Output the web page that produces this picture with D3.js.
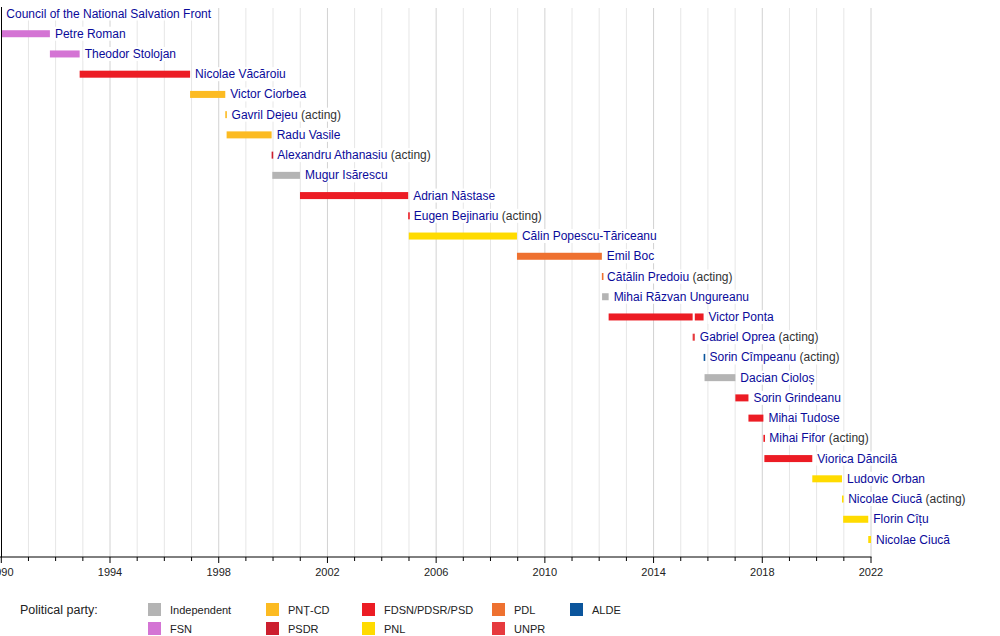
<!DOCTYPE html>
<html>
<head>
<meta charset="utf-8">
<script src="https://cdn.jsdelivr.net/npm/d3@7"></script>
<style>
  body { margin: 0; background: #fff; }
  svg { display: block; font-family: "Liberation Sans", Arial, sans-serif; }
</style>
</head>
<body>
<div class="canvas"></div>
<script>
// Rows of the timeline (one per prime minister term)
const rowNames = [
    'Council of the National Salvation Front', 'Petre Roman', 'Theodor Stolojan',
    'Nicolae Văcăroiu', 'Victor Ciorbea', 'Gavril Dejeu', 'Radu Vasile',
    'Alexandru Athanasiu', 'Mugur Isărescu', 'Adrian Năstase', 'Eugen Bejinariu',
    'Călin Popescu-Tăriceanu', 'Emil Boc', 'Cătălin Predoiu', 'Mihai Răzvan Ungureanu',
    'Victor Ponta', 'Gabriel Oprea', 'Sorin Cîmpeanu', 'Dacian Cioloș',
    'Sorin Grindeanu', 'Mihai Tudose', 'Mihai Fifor', 'Viorica Dăncilă',
    'Ludovic Orban', 'Nicolae Ciucă', 'Florin Cîțu', 'Nicolae Ciucă'
];
const rowActing = [
    false, false, false, false, false, true, false, true, false, false, true,
    false, false, true, false, false, true, true, false, false, false, true,
    false, false, true, false, false
];

// Bar segments (row index, from, till, party)
const segRow = [0, 1, 2, 3, 4, 5, 6, 7, 8, 9, 10, 11, 12, 13, 14, 15, 15, 16, 17, 18, 19, 20, 21, 22, 23, 24, 25, 26];
const segFrom = [
    '1989-12-22', '1989-12-26', '1991-10-16', '1992-11-19', '1996-12-12', '1998-03-30',
    '1998-04-17', '1999-12-13', '1999-12-22', '2000-12-28', '2004-12-21', '2004-12-29',
    '2008-12-22', '2012-02-06', '2012-02-09', '2012-05-07', '2015-07-09', '2015-06-10',
    '2015-11-05', '2015-11-17', '2017-01-04', '2017-06-29', '2018-01-16', '2018-01-29',
    '2019-11-04', '2020-12-07', '2020-12-23', '2021-11-25'
];
const segTill = [
    '1989-12-26', '1991-10-16', '1992-11-19', '1996-12-12', '1998-03-30', '1998-04-17',
    '1999-12-13', '1999-12-22', '2000-12-28', '2004-12-21', '2004-12-29', '2008-12-22',
    '2012-02-06', '2012-02-09', '2012-05-07', '2015-06-10', '2015-11-04', '2015-07-09',
    '2015-11-17', '2017-01-04', '2017-06-29', '2018-01-16', '2018-01-29', '2019-11-04',
    '2020-12-07', '2020-12-23', '2021-11-25', '2022-01-01'
];
const segParty = [
    'FSN', 'FSN', 'FSN', 'FDSN/PDSR/PSD', 'PNȚ-CD', 'PNȚ-CD', 'PNȚ-CD', 'PSDR',
    'Independent', 'FDSN/PDSR/PSD', 'FDSN/PDSR/PSD', 'PNL', 'PDL', 'PDL', 'Independent',
    'FDSN/PDSR/PSD', 'FDSN/PDSR/PSD', 'UNPR', 'ALDE', 'Independent', 'FDSN/PDSR/PSD',
    'FDSN/PDSR/PSD', 'FDSN/PDSR/PSD', 'FDSN/PDSR/PSD', 'PNL', 'PNL', 'PNL', 'PNL'
];

// Parties (legend order, column by column)
const parties = ['Independent', 'FSN', 'PNȚ-CD', 'PSDR', 'FDSN/PDSR/PSD', 'PNL', 'PDL', 'UNPR', 'ALDE'];
const partyColors = ['#b4b4b4', '#d474d4', '#fcbb22', '#cc1f2f', '#ec1c24', '#ffdb00', '#ee7130', '#e63a3e', '#0b559c'];

// Axis years
const startYear = 1990;
const endYear = 2022;
const majorStep = 4;

const app = {
    width: 1000,
    height: 636,
    svg: null,
    x: null,
    y: null,
    color: null,

    init: function() {
        const parse = d3.timeParse('%Y-%m-%d');

        app.svg = d3.select('.canvas')
            .append('svg')
            .attr('width', app.width)
            .attr('height', app.height);

        app.x = d3.scaleTime()
            .domain([new Date(startYear, 0, 1), new Date(endYear, 0, 1)])
            .range([1.3, 871])
            .clamp(true);

        app.y = d3.scalePoint()
            .domain(d3.range(rowNames.length))
            .range([13, 539]);

        app.color = d3.scaleOrdinal(parties, partyColors);

        const segments = segRow.map((r, i) => ({
            row: r,
            from: parse(segFrom[i]),
            till: parse(segTill[i]),
            party: segParty[i]
        }));

        app.drawGrid();
        app.drawBars(segments);
        app.drawLabels(segments);
        app.drawAxis();
        app.drawLegend();
    },

    drawGrid: function() {
        const years = d3.range(startYear + 1, endYear + 1);
        app.svg.append('g')
            .selectAll('line')
            .data(years)
            .join('line')
                .attr('x1', d => app.x(new Date(d, 0, 1)))
                .attr('x2', d => app.x(new Date(d, 0, 1)))
                .attr('y1', 8)
                .attr('y2', 557)
                .attr('stroke', d => (d - startYear) % majorStep === 0 ? '#d2d2d2' : '#e6e6e6')
                .attr('stroke-width', 1);
    },

    drawBars: function(segments) {
        // Visible terms get at least a thin sliver so acting terms show up
        app.svg.append('g')
            .selectAll('rect')
            .data(segments.filter(d => d.till > app.x.domain()[0]))
            .join('rect')
                .attr('x', d => app.x(d.from))
                .attr('width', d => Math.max(1.6, app.x(d.till) - app.x(d.from)))
                .attr('y', d => app.y(d.row) - 3)
                .attr('height', 7)
                .attr('fill', d => app.color(d.party));
    },

    drawLabels: function(segments) {
        // Label sits right after the last segment of each row
        const ends = rowNames.map((n, i) =>
            d3.max(segments.filter(s => s.row === i), s => app.x(s.till)));

        const g = app.svg.append('g');
        const labels = g.selectAll('g')
            .data(rowNames)
            .join('g');

        const texts = labels.append('text')
            .attr('x', (d, i) => ends[i] + 5)
            .attr('y', (d, i) => app.y(i) + 4.5)
            .attr('font-size', 12);

        texts.append('tspan')
            .attr('fill', '#0a0a9a')
            .text(d => d);

        texts.filter((d, i) => rowActing[i])
            .append('tspan')
            .attr('fill', '#333')
            .text(' (acting)');

        // White box behind the text hides the grid
        texts.each(function() {
            const b = this.getBBox();
            d3.select(this.parentNode)
                .insert('rect', 'text')
                .attr('x', b.x - 1)
                .attr('y', b.y)
                .attr('width', b.width + 2)
                .attr('height', b.height)
                .attr('fill', '#fff');
        });
    },

    drawAxis: function() {
        const axis = app.svg.append('g');

        axis.append('line')
            .attr('x1', 1.5).attr('x2', 1.5)
            .attr('y1', 7).attr('y2', 557)
            .attr('stroke', '#000');

        axis.append('line')
            .attr('x1', 0).attr('x2', app.x(new Date(endYear, 0, 1)) + 0.5)
            .attr('y1', 557).attr('y2', 557)
            .attr('stroke', '#000');

        const years = d3.range(startYear, endYear + 1);
        axis.selectAll('.tick')
            .data(years)
            .join('line')
                .attr('class', 'tick')
                .attr('x1', d => app.x(new Date(d, 0, 1)))
                .attr('x2', d => app.x(new Date(d, 0, 1)))
                .attr('y1', 557)
                .attr('y2', d => (d - startYear) % majorStep === 0 ? 563 : 561)
                .attr('stroke', '#000');

        const majors = years.filter(d => (d - startYear) % majorStep === 0);
        axis.selectAll('.year')
            .data(majors)
            .join('text')
                .attr('class', 'year')
                .attr('x', d => app.x(new Date(d, 0, 1)))
                .attr('y', 576)
                .attr('text-anchor', 'middle')
                .attr('font-size', 11)
                .attr('fill', '#222')
                .text(d => d);
    },

    drawLegend: function() {
        const legend = app.svg.append('g');

        legend.append('text')
            .attr('x', 20)
            .attr('y', 614)
            .attr('font-size', 12.5)
            .attr('fill', '#222')
            .text('Political party:');

        const colX = [148, 266, 362, 492, 570];
        const items = legend.selectAll('g')
            .data(parties)
            .join('g')
                .attr('transform', (d, i) =>
                    `translate(${colX[Math.floor(i / 2)]}, ${i % 2 === 0 ? 603 : 622})`);

        items.append('rect')
            .attr('width', 13)
            .attr('height', 13)
            .attr('fill', d => app.color(d));

        items.append('text')
            .attr('x', 22)
            .attr('y', 11)
            .attr('font-size', 11)
            .attr('fill', '#222')
            .text(d => d);
    }
};

document.addEventListener('DOMContentLoaded', app.init);
</script>
</body>
</html>
